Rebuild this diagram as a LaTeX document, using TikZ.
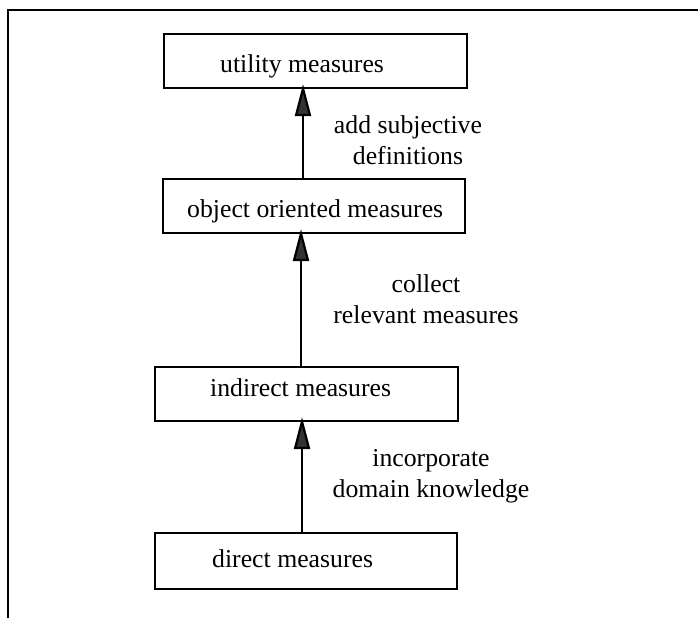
\documentclass[tikz,border=0pt]{standalone}
\usepackage{fontspec}
\setmainfont{Liberation Serif}
\usetikzlibrary{arrows.meta}
\begin{document}
\begin{tikzpicture}[x=1pt,y=-1pt,
  box/.style={draw=black, line width=2.2pt, rectangle, inner sep=0pt},
  txt/.style={inner sep=0pt, anchor=base west, font=\fontsize{25.75}{31}\selectfont},
  lbl/.style={inner sep=0pt, anchor=base, font=\fontsize{25.75}{31}\selectfont},
  arr/.style={line width=2.2pt, -{Triangle[length=32pt,width=16pt,fill=black!80]}, shorten >=-5pt},
  frame/.style={line width=2pt}]
\useasboundingbox (0,0) rectangle (698,618);
% frame
\coordinate (f1) at (8,618);
\coordinate (f2) at (8,10);
\coordinate (f3) at (698,10);
\draw[frame] (f1) -- (f2) -- (f3);
% boxes
\node[box, minimum width=303pt, minimum height=54pt] (u) at (315.5,61) {};
\node[box, minimum width=302pt, minimum height=54pt] (o) at (314,206) {};
\node[box, minimum width=303pt, minimum height=54pt] (i) at (306.5,394) {};
\node[box, minimum width=302pt, minimum height=56pt] (d) at (306,561) {};
% box texts
\node[txt] (ut) at (220,73) {utility measures};
\node[txt] (ot) at (187,217) {object oriented measures};
\node[txt] (it) at (210,396) {indirect measures};
\node[txt] (dt) at (212,567) {direct measures};
% arrows
\coordinate (a1) at (303,0);
\coordinate (a2) at (301,0);
\coordinate (a3) at (302,0);
\draw[arr] (o.north -| a1) -- (u.south -| a1);
\draw[arr] (i.north -| a2) -- (o.south -| a2);
\draw[arr] (d.north -| a3) -- (i.south -| a3);
% labels
\node[lbl] (l1) at (408,133) {\begin{tabular}[t]{@{}c@{}}add subjective\\definitions\end{tabular}};
\node[lbl] (l2) at (426,292) {\begin{tabular}[t]{@{}c@{}}collect\\relevant measures\end{tabular}};
\node[lbl] (l3) at (431,466) {\begin{tabular}[t]{@{}c@{}}incorporate\\domain knowledge\end{tabular}};
\end{tikzpicture}
\end{document}
